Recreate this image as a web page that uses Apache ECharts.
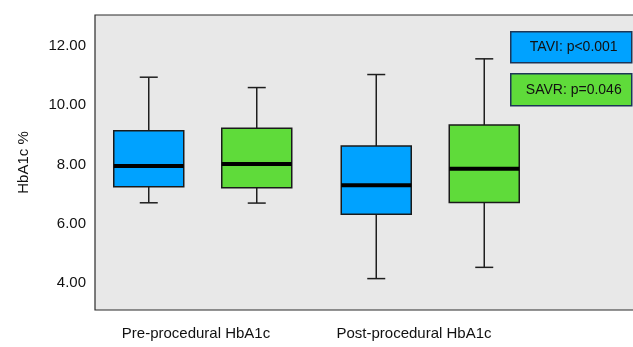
<!DOCTYPE html>
<html>
<head>
<meta charset="utf-8">
<script src="https://cdn.jsdelivr.net/npm/echarts@6/dist/echarts.min.js"></script>
<style>
html,body{margin:0;padding:0;background:#fff;}
#c{width:633px;height:347px;}
</style>
</head>
<body>
<div id="c"></div>
<script>
// ---- data ----
const categories = ['Pre-procedural HbA1c', 'Post-procedural HbA1c'];
// [min, Q1, median, Q3, max]
const taviStats = [
  [6.71, 7.25, 7.95, 9.14, 10.95],
  [4.15, 6.32, 7.30, 8.63, 11.04]
];
const savrStats = [
  [6.70, 7.22, 8.02, 9.23, 10.60],
  [4.53, 6.72, 7.86, 9.34, 11.57]
];
const yTicks = [4, 6, 8, 10, 12];
const legendTexts = ['TAVI: p<0.001', 'SAVR: p=0.046'];

// ---- style ----
const BLUE = '#00a2ff';
const GREEN = '#5fdb3a';
const BG = '#e8e8e8';
const Y_MIN = 3.09, Y_MAX = 13.05;
const BOX_W = 70, CAP_W = 18, GROUP_OFFSET = 54;
const FONT = '"Liberation Sans", Arial, sans-serif';

function makeRender(offset, color) {
  return function (params, api) {
    const c = api.value(0);
    const cx = api.coord([c, 0])[0] + offset;
    const y = (v) => api.coord([c, v])[1];
    const yMin = y(api.value(1)), yQ1 = y(api.value(2)), yMed = y(api.value(3)),
          yQ3 = y(api.value(4)), yMax = y(api.value(5));
    const lineStyle = { stroke: '#1e1e1e', lineWidth: 1.5 };
    return {
      type: 'group',
      children: [
        { type: 'line', shape: { x1: cx, y1: yQ3, x2: cx, y2: yMax }, style: lineStyle },
        { type: 'line', shape: { x1: cx, y1: yQ1, x2: cx, y2: yMin }, style: lineStyle },
        { type: 'line', shape: { x1: cx - CAP_W / 2, y1: yMax, x2: cx + CAP_W / 2, y2: yMax }, style: lineStyle },
        { type: 'line', shape: { x1: cx - CAP_W / 2, y1: yMin, x2: cx + CAP_W / 2, y2: yMin }, style: lineStyle },
        { type: 'rect', shape: { x: cx - BOX_W / 2, y: yQ3, width: BOX_W, height: yQ1 - yQ3 },
          style: { fill: color, stroke: '#1a1a1a', lineWidth: 1.5 } },
        { type: 'line', shape: { x1: cx - BOX_W / 2, y1: yMed, x2: cx + BOX_W / 2, y2: yMed },
          style: { stroke: '#000', lineWidth: 4 } }
      ]
    };
  };
}

const toData = (stats) => stats.map((s, i) => [i].concat(s));

const chart = echarts.init(document.getElementById('c'), null, { renderer: 'canvas' });
const yBase = { type: 'value', min: Y_MIN, max: Y_MAX, splitLine: { show: false },
  axisTick: { show: false }, axisLine: { show: false }, axisLabel: { show: false } };

chart.setOption({
  animation: false,
  grid: [
    // boxes
    { left: 89, width: 455, top: 15, bottom: 37, outerBoundsMode: 'none', containLabel: false },
    // background frame (extends past the right edge, as in the reference)
    { left: 95, width: 620, top: 15, bottom: 37, show: true, backgroundColor: BG,
      borderColor: '#2a2a2a', borderWidth: 1.2, outerBoundsMode: 'none', containLabel: false },
    // category labels
    { left: 87, width: 436, top: 15, bottom: 37, outerBoundsMode: 'none', containLabel: false }
  ],
  xAxis: [
    { gridIndex: 0, type: 'category', data: categories, show: false },
    { gridIndex: 1, type: 'value', show: false },
    { gridIndex: 2, type: 'category', data: categories,
      axisLine: { show: false }, axisTick: { show: false },
      axisLabel: { fontSize: 15, color: '#111', fontFamily: FONT, margin: 16 } }
  ],
  yAxis: [
    Object.assign({ gridIndex: 0 }, yBase),
    { gridIndex: 1, type: 'value', min: Y_MIN, max: Y_MAX,
      splitLine: { show: false }, axisTick: { show: false }, axisLine: { show: false },
      axisLabel: { show: true, customValues: yTicks, fontSize: 15, color: '#111', fontFamily: FONT,
        margin: 9, formatter: (v) => v.toFixed(2) },
      name: 'HbA1c %', nameLocation: 'middle', nameRotate: 90, nameGap: 64,
      nameTextStyle: { fontSize: 15, color: '#111', fontFamily: FONT } },
    Object.assign({ gridIndex: 2 }, yBase)
  ],
  series: [
    { type: 'custom', name: 'TAVI', xAxisIndex: 0, yAxisIndex: 0,
      renderItem: makeRender(-GROUP_OFFSET, BLUE),
      encode: { x: 0, y: [1, 2, 3, 4, 5] }, data: toData(taviStats), z: 3 },
    { type: 'custom', name: 'SAVR', xAxisIndex: 0, yAxisIndex: 0,
      renderItem: makeRender(GROUP_OFFSET, GREEN),
      encode: { x: 0, y: [1, 2, 3, 4, 5] }, data: toData(savrStats), z: 3 }
  ],
  graphic: [
    { type: 'group', left: 510, top: 31, z: 10, children: [
      { type: 'rect', shape: { x: 0, y: 0, width: 121, height: 31 },
        style: { fill: BLUE, stroke: '#1d3557', lineWidth: 1.5 } },
      { type: 'text', x: 63, y: 15.5, style: { text: legendTexts[0], fill: '#111',
        font: '14px ' + FONT, align: 'center', verticalAlign: 'middle' } }
    ]},
    { type: 'group', left: 510, top: 73, z: 10, children: [
      { type: 'rect', shape: { x: 0, y: 0, width: 121, height: 32 },
        style: { fill: GREEN, stroke: '#1d3557', lineWidth: 1.5 } },
      { type: 'text', x: 63, y: 16, style: { text: legendTexts[1], fill: '#111',
        font: '14px ' + FONT, align: 'center', verticalAlign: 'middle' } }
    ]}
  ]
});
</script>
</body>
</html>
